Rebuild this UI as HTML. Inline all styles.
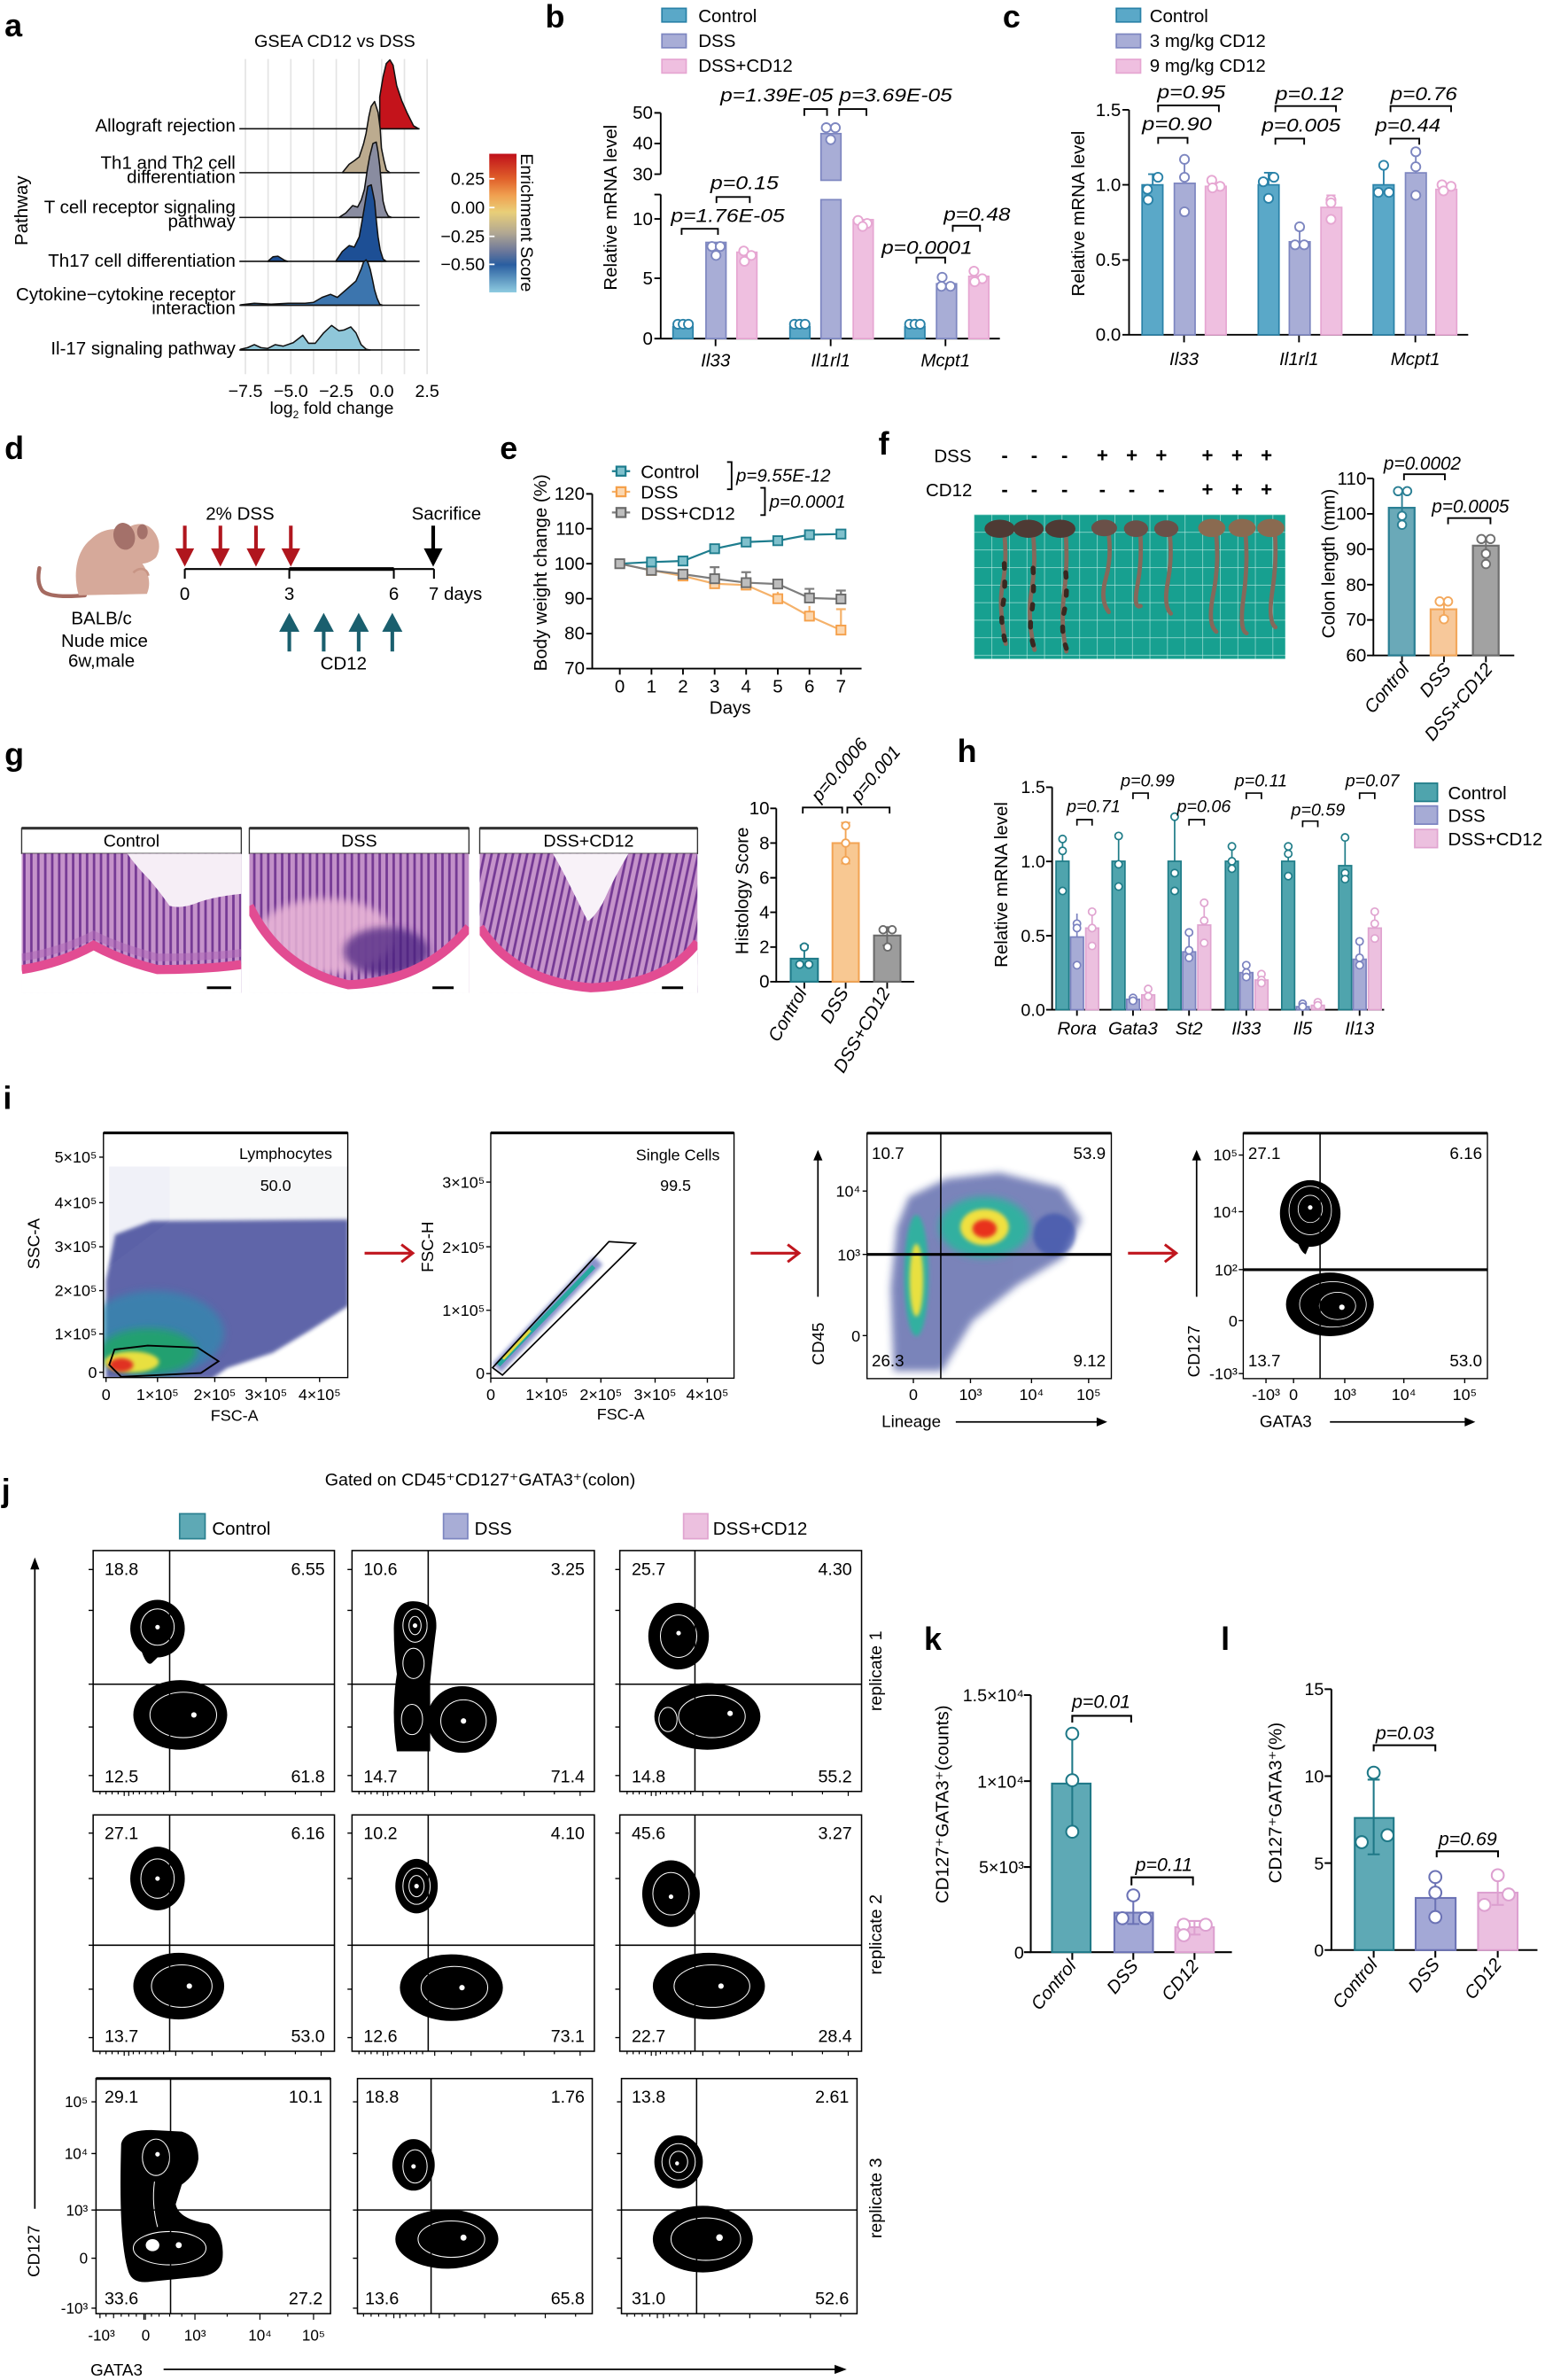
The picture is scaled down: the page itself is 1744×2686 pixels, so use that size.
<!DOCTYPE html>
<html><head><meta charset="utf-8">
<style>
html,body{margin:0;padding:0;background:#fff;}
svg{display:block;}
text{font-family:"Liberation Sans",Arial,sans-serif;fill:#000;}
.L{font-weight:bold;font-size:21px;}
.it{font-style:italic;}
</style></head><body>
<svg width="1744" height="2686" viewBox="0 0 1020 1571" preserveAspectRatio="none" xmlns="http://www.w3.org/2000/svg">
<defs>
<linearGradient id="cbar" x1="0" y1="0" x2="0" y2="1">
<stop offset="0" stop-color="#c0101a"/><stop offset="0.18" stop-color="#e0602a"/><stop offset="0.3" stop-color="#f0a050"/><stop offset="0.42" stop-color="#e9cf78"/><stop offset="0.57" stop-color="#b2a892"/><stop offset="0.7" stop-color="#6d789a"/><stop offset="0.8" stop-color="#2a5ea0"/><stop offset="1" stop-color="#8ecbe0"/>
</linearGradient>
<pattern id="grid" width="11.6" height="11.6" patternUnits="userSpaceOnUse" x="643" y="339.6"><rect width="11.6" height="11.6" fill="#17a090"/><path d="M0,0H11.6M0,0V11.6" stroke="#bfeae2" stroke-width=".7"/></pattern>
<pattern id="crypt" width="4.6" height="30" patternUnits="userSpaceOnUse"><rect width="4.6" height="30" fill="#d9a6d8"/><path d="M2.3,0V30" stroke="#7a3c98" stroke-width="1.6"/></pattern>
<pattern id="crypt2" width="4.6" height="30" patternUnits="userSpaceOnUse" patternTransform="rotate(12)"><rect width="4.6" height="30" fill="#d9a6d8"/><path d="M2.3,0V30" stroke="#7a3c98" stroke-width="1.6"/></pattern>
<filter id="bl" x="-50%" y="-50%" width="200%" height="200%"><feGaussianBlur stdDeviation="2.5"/></filter>
<filter id="bl2" x="-50%" y="-50%" width="200%" height="200%"><feGaussianBlur stdDeviation="1.2"/></filter>
<clipPath id="cp1"><rect x="68.3" y="747.8" width="161.3" height="161.5"/></clipPath>
<clipPath id="cp3"><rect x="572.4" y="748" width="161.3" height="162"/></clipPath>
<clipPath id="h1"><rect x="14.3" y="563.4" width="145" height="92"/></clipPath>
<clipPath id="h2"><rect x="164.6" y="563.4" width="145" height="92"/></clipPath>
<clipPath id="h3"><rect x="316.7" y="563.4" width="143.8" height="92"/></clipPath>
</defs>
<rect width="1020" height="1571" fill="#fff"/>

<!-- ============ PANEL A ============ -->
<text x="3" y="24" class="L">a</text>
<text x="221" y="31" font-size="11.6" text-anchor="middle">GSEA CD12 vs DSS</text>
<g stroke="#e4e4e4" stroke-width="1">
<path d="M162,39V247M177,39V247M192,39V247M207,39V247M222,39V247M237,39V247M252,39V247M267,39V247M282,39V247"/>
</g>
<g stroke="#111" stroke-width="0.9" stroke-linejoin="round">
<path d="M250.7,85 L250.7,64 L252.9,50.8 L255,42 L257.4,39.5 L259.5,43 L261.9,56.6 L265.2,66.4 L268.6,74.2 L273,83 L276.4,85 Z" fill="#c4131b"/>
<path d="M158,85H277" fill="none"/>
<path d="M226,114 L230.5,108.4 L234,106 L237.2,103.5 L240,95 L241.7,87.9 L243.5,77 L245,70.3 L247.3,67 L249.6,74.2 L251,85 L251.8,97.7 L253.5,106 L255.1,112.3 L257.4,114 Z" fill="#bcab8f"/>
<path d="M158,114H277" fill="none"/>
<path d="M223.8,143.5 L228.3,140.6 L232.8,135.7 L236.1,136.7 L238.5,132 L240.6,125 L242.5,112 L244,103.5 L246.2,94.7 L248.4,93.8 L249.5,100 L250.7,109.4 L251.8,122 L252.9,132.8 L254.5,139 L256.3,142.6 L258.5,143.5 Z" fill="#898ca0"/>
<path d="M158,143.5H277" fill="none"/>
<path d="M176.8,172.5 L180.2,169.5 L183.5,169.1 L188,171.9 L190,172.5 Z" fill="#1d4f95"/>
<path d="M221.6,172.5 L226,166 L230.5,162.1 L233.9,163.1 L237.2,156.3 L239,146 L240.6,136.7 L242.8,123 L245.1,122 L247.3,132.8 L248.5,146 L249.6,156.3 L251,165 L252.9,171 L255,172.5 Z" fill="#1d4f95"/>
<path d="M158,172.5H277" fill="none"/>
<path d="M158.9,201.2 L167.9,200.2 L179,200.8 L190.2,200.2 L201.4,200.2 L207,199.6 L212.6,196.3 L218.2,194.3 L222.7,196.3 L226,193.4 L230.5,189.5 L235,185.5 L238.4,177.7 L240,173 L241.7,171.5 L243,173.5 L244.4,177.7 L246,185 L247.3,191.4 L249,197 L250.7,200.8 L252.5,201.5 L158.9,201.5 Z" fill="#3c75ae"/>
<path d="M158,201.5H277" fill="none"/>
<path d="M158.9,230.5 L163.4,229.5 L167.9,227.5 L172.3,229.5 L176.8,230 L181.7,227.5 L186.9,228.5 L193.6,226.2 L197,223.6 L199.9,221.3 L203.7,226.6 L208.1,226.6 L213.7,219.7 L218.9,214.8 L223.8,218.4 L227.2,217.8 L231.6,215.8 L235,219.7 L238.4,227.5 L241.7,230.5 L244.4,231 L158.9,231 Z" fill="#8fc7d9"/>
<path d="M158,231H277" fill="none"/>
</g>
<g font-size="12" text-anchor="end">
<text x="155.5" y="87">Allograft rejection</text>
<text x="155.5" y="111.3">Th1 and Th2 cell</text>
<text x="155.5" y="120.7">differentiation</text>
<text x="155.5" y="140.6">T cell receptor signaling</text>
<text x="155.5" y="150">pathway</text>
<text x="155.5" y="176">Th17 cell differentiation</text>
<text x="155.5" y="198.2">Cytokine−cytokine receptor</text>
<text x="155.5" y="207.4">interaction</text>
<text x="155.5" y="234">Il-17 signaling pathway</text>
</g>
<text transform="translate(18,139) rotate(-90)" font-size="12" text-anchor="middle">Pathway</text>
<g font-size="11.5" text-anchor="middle">
<text x="162" y="262">−7.5</text><text x="192" y="262">−5.0</text><text x="222" y="262">−2.5</text><text x="252" y="262">0.0</text><text x="282" y="262">2.5</text>
<text x="219" y="273">log<tspan font-size="7" dy="3">2</tspan><tspan dy="-3"> fold change</tspan></text>
</g>
<rect x="323" y="101.5" width="18" height="91.5" fill="url(#cbar)"/>
<g stroke="#fff" stroke-width="1"><path d="M323,118h3.5M323,137h3.5M323,156h3.5M323,174.5h3.5"/></g>
<g font-size="11.5" text-anchor="end">
<text x="320" y="122">0.25</text><text x="320" y="141">0.00</text><text x="320" y="160">−0.25</text><text x="320" y="178.5">−0.50</text>
</g>
<text transform="translate(344,147) rotate(90)" font-size="11.5" text-anchor="middle">Enrichment Score</text>

<!-- ============ PANEL B ============ -->
<text x="360" y="18" class="L">b</text>
<rect x="437" y="5.5" width="16" height="9" fill="#5aa8c8" stroke="#2a82a8"/>
<rect x="437" y="22.5" width="16" height="9" fill="#a8add6" stroke="#7d86c0"/>
<rect x="437" y="39.2" width="16" height="9" fill="#efbfe0" stroke="#e6a6d2"/>
<g font-size="12"><text x="461" y="14.5">Control</text><text x="461" y="31">DSS</text><text x="461" y="47.5">DSS+CD12</text></g>
<g stroke="#000" stroke-width="1.1" fill="none">
<path d="M436.2,74.5V115M432,74.5h4.2M432,94.7h4.2M432,115h4.2"/>
<path d="M436.2,128.4V223.5H660.1M432,128.4h4.2M432,144.5h4.2M432,183.7h4.2M432,223.5h4.2"/>
<path d="M472.4,223.5v5M548.4,223.5v5M624.2,223.5v5"/>
</g>
<g font-size="12" text-anchor="end">
<text x="431" y="78.5">50</text><text x="431" y="98.7">40</text><text x="431" y="119">30</text><text x="431" y="148.5">10</text><text x="431" y="187.7">5</text><text x="431" y="227.5">0</text>
</g>
<text transform="translate(407,137) rotate(-90)" font-size="12" text-anchor="middle">Relative mRNA level</text>
<g font-size="12" text-anchor="middle" class="it">
<text x="472.4" y="242" font-style="italic">Il33</text><text x="548.4" y="242" font-style="italic">Il1rl1</text><text x="624.2" y="242" font-style="italic">Mcpt1</text>
</g>
<g stroke-width="1">
<rect x="444.3" y="215.6" width="13.2" height="7.9" fill="#5aa8c8" stroke="#2a82a8"/>
<rect x="466.1" y="160" width="13.2" height="63.5" fill="#a8add6" stroke="#7d86c0"/>
<rect x="486.5" y="166.5" width="13.2" height="57" fill="#efbfe0" stroke="#e6a6d2"/>
<rect x="521.5" y="215.6" width="13.2" height="7.9" fill="#5aa8c8" stroke="#2a82a8"/>
<rect x="542" y="88.2" width="13.2" height="30.8" fill="#a8add6" stroke="#7d86c0"/>
<rect x="542" y="131.8" width="13.2" height="91.7" fill="#a8add6" stroke="#7d86c0"/>
<rect x="563.3" y="145" width="13.2" height="78.5" fill="#efbfe0" stroke="#e6a6d2"/>
<rect x="597.4" y="215.6" width="13.2" height="7.9" fill="#5aa8c8" stroke="#2a82a8"/>
<rect x="618.3" y="187.3" width="13.2" height="36.2" fill="#a8add6" stroke="#7d86c0"/>
<rect x="639.6" y="182.4" width="13.2" height="41.1" fill="#efbfe0" stroke="#e6a6d2"/>
</g>
<g fill="#fff" stroke-width="1.1">
<g stroke="#2a82a8"><circle cx="447.5" cy="214" r="3"/><circle cx="451" cy="214" r="3"/><circle cx="454.5" cy="214" r="3"/><circle cx="524.5" cy="214" r="3"/><circle cx="528" cy="214" r="3"/><circle cx="531.5" cy="214" r="3"/><circle cx="600.5" cy="214" r="3"/><circle cx="604" cy="214" r="3"/><circle cx="607.5" cy="214" r="3"/></g>
<g stroke="#7d86c0"><circle cx="470" cy="162.7" r="3"/><circle cx="475.5" cy="162.7" r="3"/><circle cx="472.7" cy="168.6" r="3"/><circle cx="545.5" cy="84.3" r="3"/><circle cx="551.5" cy="84.3" r="3"/><circle cx="548.4" cy="92.2" r="3"/><circle cx="622" cy="183" r="3"/><circle cx="621.5" cy="189" r="3"/><circle cx="627.5" cy="189" r="3"/></g>
<g stroke="#e6a6d2"><circle cx="491" cy="165.7" r="3"/><circle cx="496" cy="168.6" r="3"/><circle cx="491.5" cy="172.5" r="3"/><circle cx="566.5" cy="145.5" r="3"/><circle cx="572.5" cy="147.5" r="3"/><circle cx="569.5" cy="149.5" r="3"/><circle cx="643" cy="179" r="3"/><circle cx="648.5" cy="184" r="3"/><circle cx="643.5" cy="186" r="3"/></g>
</g>
<g stroke="#000" stroke-width="1.1" fill="none">
<path d="M531,76.5V72H546V76.5M554,76.5V72H572V76.5"/>
<path d="M473,134V130H495V134"/>
<path d="M450,155V151H474V155"/>
<path d="M605,174V170H624V174"/>
<path d="M629,153V149H647V153"/>
</g>
<g font-size="12.5" font-style="italic">
<text x="475.6" y="67" textLength="153" lengthAdjust="spacingAndGlyphs">p=1.39E-05 p=3.69E-05</text>
<text x="469" y="125" textLength="45" lengthAdjust="spacingAndGlyphs">p=0.15</text>
<text x="443" y="146.5" textLength="75" lengthAdjust="spacingAndGlyphs">p=1.76E-05</text>
<text x="582" y="167.5" textLength="60" lengthAdjust="spacingAndGlyphs">p=0.0001</text>
<text x="623" y="145.5" textLength="44" lengthAdjust="spacingAndGlyphs">p=0.48</text>
</g>

<!-- ============ PANEL C ============ -->
<text x="662" y="18" class="L">c</text>
<rect x="737" y="5.5" width="16" height="9" fill="#5aa8c8" stroke="#2a82a8"/>
<rect x="737" y="22.5" width="16" height="9" fill="#a8add6" stroke="#7d86c0"/>
<rect x="737" y="39.2" width="16" height="9" fill="#efbfe0" stroke="#e6a6d2"/>
<g font-size="12"><text x="759" y="14.5">Control</text><text x="759" y="31">3 mg/kg CD12</text><text x="759" y="47.5">9 mg/kg CD12</text></g>
<g stroke="#000" stroke-width="1.1" fill="none">
<path d="M745.4,72.5V221H969.3M741,72.5h4.4M741,122h4.4M741,171.6h4.4M741,221h4.4M781.7,221v5M857.6,221v5M934.4,221v5"/>
</g>
<g font-size="12" text-anchor="end">
<text x="740" y="76.5">1.5</text><text x="740" y="126">1.0</text><text x="740" y="175.6">0.5</text><text x="740" y="225">0.0</text>
</g>
<text transform="translate(716,141) rotate(-90)" font-size="12" text-anchor="middle">Relative mRNA level</text>
<g font-size="12" text-anchor="middle" font-style="italic">
<text x="781.7" y="241">Il33</text><text x="857.6" y="241">Il1rl1</text><text x="934.4" y="241">Mcpt1</text>
</g>
<g stroke-width="1">
<rect x="754" y="122" width="13.7" height="99" fill="#5aa8c8" stroke="#2a82a8"/>
<rect x="775.3" y="121" width="13.7" height="100" fill="#a8add6" stroke="#7d86c0"/>
<rect x="795.8" y="123" width="13.7" height="98" fill="#efbfe0" stroke="#e6a6d2"/>
<rect x="830.7" y="122" width="13.7" height="99" fill="#5aa8c8" stroke="#2a82a8"/>
<rect x="851.2" y="159.6" width="13.7" height="61.4" fill="#a8add6" stroke="#7d86c0"/>
<rect x="872.1" y="136.9" width="13.7" height="84.1" fill="#efbfe0" stroke="#e6a6d2"/>
<rect x="906.6" y="122" width="13.7" height="99" fill="#5aa8c8" stroke="#2a82a8"/>
<rect x="927.9" y="114.1" width="13.7" height="106.9" fill="#a8add6" stroke="#7d86c0"/>
<rect x="948" y="125" width="13.7" height="96" fill="#efbfe0" stroke="#e6a6d2"/>
</g>
<g stroke-width="1.1" fill="none">
<path stroke="#2a82a8" d="M761,122V115M758,115h6M837.5,122V114M834.5,114h6M913.5,122V109M910.5,109h6"/>
<path stroke="#7d86c0" d="M782,121V104.2M779,104.2h6M858,159.6V151.7M855,151.7h6M934.7,114.1V100.2M931.7,100.2h6"/>
<path stroke="#e6a6d2" d="M878.7,136.9V128.9M875.7,128.9h6"/>
</g>
<g fill="#fff" stroke-width="1.1">
<g stroke="#2a82a8"><circle cx="764.5" cy="117" r="3"/><circle cx="757.5" cy="125" r="3"/><circle cx="758" cy="131.9" r="3"/><circle cx="841" cy="117" r="3"/><circle cx="834" cy="120" r="3"/><circle cx="837.5" cy="130.9" r="3"/><circle cx="913.5" cy="109.1" r="3"/><circle cx="910" cy="127" r="3"/><circle cx="917" cy="127" r="3"/></g>
<g stroke="#7d86c0"><circle cx="782" cy="105.2" r="3"/><circle cx="782" cy="117" r="3"/><circle cx="782" cy="139.8" r="3"/><circle cx="858" cy="149.7" r="3"/><circle cx="855" cy="161.6" r="3"/><circle cx="861" cy="161.6" r="3"/><circle cx="934.7" cy="100.2" r="3"/><circle cx="934.7" cy="110.1" r="3"/><circle cx="934.7" cy="128.9" r="3"/></g>
<g stroke="#e6a6d2"><circle cx="800" cy="119" r="3"/><circle cx="805.5" cy="123" r="3"/><circle cx="800.5" cy="124" r="3"/><circle cx="878.7" cy="131.9" r="3"/><circle cx="878.7" cy="133.9" r="3"/><circle cx="878.7" cy="144.8" r="3"/><circle cx="952" cy="122" r="3"/><circle cx="958" cy="123" r="3"/><circle cx="953" cy="126" r="3"/></g>
</g>
<g stroke="#000" stroke-width="1.1" fill="none">
<path d="M764.6,74V69.6H804.7V74M764.6,95V91H784V95"/>
<path d="M842,74V70H882V74M842,95.5V91.5H861V95.5"/>
<path d="M918,74V70H958V74M918,95.5V91.5H937V95.5"/>
</g>
<g font-size="12.5" font-style="italic">
<text x="764" y="65" textLength="45" lengthAdjust="spacingAndGlyphs">p=0.95</text>
<text x="754" y="86" textLength="46" lengthAdjust="spacingAndGlyphs">p=0.90</text>
<text x="842" y="66" textLength="45" lengthAdjust="spacingAndGlyphs">p=0.12</text>
<text x="833" y="87" textLength="52" lengthAdjust="spacingAndGlyphs">p=0.005</text>
<text x="918" y="66" textLength="44" lengthAdjust="spacingAndGlyphs">p=0.76</text>
<text x="908" y="87" textLength="43" lengthAdjust="spacingAndGlyphs">p=0.44</text>
</g>

<!-- ============ PANEL D ============ -->
<text x="3" y="303" class="L">d</text>
<path d="M56,393 C44,394 32,394 28,390 C25,386 25,380 26,375" stroke="#a56a60" stroke-width="2.6" fill="none" stroke-linecap="round"/>
<path d="M52,393 C48,380 50,364 60,356 C66,350 74,348 82,350 C88,345 96,344 101,350 C106,356 106,363 103,368 C100,371 96,372 94,372 C98,378 100,385 97,392 Z" fill="#d6a99a"/>
<ellipse cx="82" cy="354" rx="7" ry="9" fill="#a4716a" transform="rotate(-15 82 354)"/>
<ellipse cx="94" cy="351" rx="3.5" ry="5" fill="#a4716a"/>
<path d="M88,378 C92,374 97,375 98,380" stroke="#c89585" stroke-width="1.5" fill="none"/>
<g font-size="12" text-anchor="middle">
<text x="67" y="412">BALB/c</text><text x="69" y="427">Nude mice</text><text x="67" y="440">6w,male</text>
<text x="158.5" y="343">2% DSS</text><text x="294.7" y="343">Sacrifice</text><text x="226.8" y="442">CD12</text>
<text x="122" y="396">0</text><text x="191" y="396">3</text><text x="260" y="396">6</text>
</g>
<text x="283" y="396" font-size="12">7 days</text>
<g stroke="#000" stroke-width="1.2" fill="none">
<path d="M122,375.6H286.5M122,375.6V382M191,375.6V382M260,375.6V382M286.5,375.6V382"/>
</g>
<path d="M191,375.6H260" stroke="#000" stroke-width="2.4"/>
<g fill="#b0161e">
<path d="M120.8,347h2.4v15h5l-6.2,12l-6.2,-12h5z"/>
<path d="M144.3,347h2.4v15h5l-6.2,12l-6.2,-12h5z"/>
<path d="M167.8,347h2.4v15h5l-6.2,12l-6.2,-12h5z"/>
<path d="M190.8,347h2.4v15h5l-6.2,12l-6.2,-12h5z"/>
</g>
<path d="M284.8,347h2.4v15h5l-6.2,12l-6.2,-12h5z" fill="#000"/>
<g fill="#1a5f6e">
<path d="M189.8,430h2.4v-13h5.5l-6.7,-12.5l-6.7,12.5h5.5z"/>
<path d="M212.5,430h2.4v-13h5.5l-6.7,-12.5l-6.7,12.5h5.5z"/>
<path d="M235.6,430h2.4v-13h5.5l-6.7,-12.5l-6.7,12.5h5.5z"/>
<path d="M257.8,430h2.4v-13h5.5l-6.7,-12.5l-6.7,12.5h5.5z"/>
</g>

<!-- ============ PANEL E ============ -->
<text x="330" y="303" class="L">e</text>
<g stroke="#000" stroke-width="1.1" fill="none">
<path d="M391,326V441.3H568.8"/>
<path d="M387,326h4M387,349h4M387,372.1h4M387,395.2h4M387,418.2h4M387,441.3h4"/>
<path d="M409.2,441.3v4M430.1,441.3v4M450.9,441.3v4M471.8,441.3v4M492.6,441.3v4M513.5,441.3v4M534.4,441.3v4M555.2,441.3v4"/>
</g>
<g font-size="12" text-anchor="end">
<text x="386" y="330">120</text><text x="386" y="353">110</text><text x="386" y="376">100</text><text x="386" y="399">90</text><text x="386" y="422">80</text><text x="386" y="445">70</text>
</g>
<g font-size="12" text-anchor="middle">
<text x="409.2" y="457">0</text><text x="430.1" y="457">1</text><text x="450.9" y="457">2</text><text x="471.8" y="457">3</text><text x="492.6" y="457">4</text><text x="513.5" y="457">5</text><text x="534.4" y="457">6</text><text x="555.2" y="457">7</text>
<text x="482" y="471">Days</text>
</g>
<text transform="translate(361,378) rotate(-90)" font-size="12" text-anchor="middle">Body weight change (%)</text>
<g fill="none" stroke-width="1.3">
<path stroke="#f5b26b" d="M513.5,395.2V390.6M534.4,406.7V400M555.2,415.9V402.1M552,402.1h6.4"/>
<path stroke="#7d7d7d" d="M471.8,382V374.4M492.6,384.6V377.7M534.4,394.7V388.7M555.2,395.4V389.8M468.6,374.4h6.4M489.4,377.7h6.4M531.2,388.7h6.4M552,389.8h6.4"/>
<polyline stroke="#f5b26b" points="409.2,372.1 430.1,376.5 450.9,380.2 471.8,385.3 492.6,386.2 513.5,395.2 534.4,406.7 555.2,415.9"/>
<polyline stroke="#7d7d7d" points="409.2,372.1 430.1,376.5 450.9,379.0 471.8,382.0 492.6,384.6 513.5,385.5 534.4,394.7 555.2,395.4"/>
<polyline stroke="#1e7d8e" points="409.2,372.1 430.1,371.0 450.9,370.3 471.8,362.2 492.6,357.8 513.5,356.9 534.4,353.0 555.2,352.5"/>
</g>
<g stroke-width="1.1">
<g fill="#fbd7b0" stroke="#f5a04a"><rect x="427.1" y="373.5" width="6" height="6"/><rect x="447.9" y="377.2" width="6" height="6"/><rect x="468.8" y="382.3" width="6" height="6"/><rect x="489.6" y="383.2" width="6" height="6"/><rect x="510.5" y="392.2" width="6" height="6"/><rect x="531.4" y="403.7" width="6" height="6"/><rect x="552.2" y="412.9" width="6" height="6"/></g>
<g fill="#bdbdbd" stroke="#6a6a6a"><rect x="406.2" y="369.1" width="6" height="6"/><rect x="427.1" y="373.5" width="6" height="6"/><rect x="447.9" y="376" width="6" height="6"/><rect x="468.8" y="379" width="6" height="6"/><rect x="489.6" y="381.6" width="6" height="6"/><rect x="510.5" y="382.5" width="6" height="6"/><rect x="531.4" y="391.7" width="6" height="6"/><rect x="552.2" y="392.4" width="6" height="6"/></g>
<g fill="#7fc0cc" stroke="#1e7d8e"><rect x="427.1" y="368" width="6" height="6"/><rect x="447.9" y="367.3" width="6" height="6"/><rect x="468.8" y="359.2" width="6" height="6"/><rect x="489.6" y="354.8" width="6" height="6"/><rect x="510.5" y="353.9" width="6" height="6"/><rect x="531.4" y="350" width="6" height="6"/><rect x="552.2" y="349.5" width="6" height="6"/></g>
</g>
<g stroke-width="1.3">
<path d="M404,311h12" stroke="#1e7d8e"/><rect x="407" y="308" width="6" height="6" fill="#7fc0cc" stroke="#1e7d8e"/>
<path d="M404,324.6h12" stroke="#f5b26b"/><rect x="407" y="321.6" width="6" height="6" fill="#fbd7b0" stroke="#f5a04a"/>
<path d="M404,338.3h12" stroke="#7d7d7d"/><rect x="407" y="335.3" width="6" height="6" fill="#bdbdbd" stroke="#6a6a6a"/>
</g>
<g font-size="12"><text x="423" y="315.5">Control</text><text x="423" y="329">DSS</text><text x="423" y="343">DSS+CD12</text></g>
<path d="M480,305H483V323H480M502,322H505V340H502" stroke="#000" stroke-width="1.1" fill="none"/>
<g font-size="12" font-style="italic"><text x="486" y="318">p=9.55E-12</text><text x="508" y="335">p=0.0001</text></g>

<!-- ============ PANEL F ============ -->
<text x="580" y="300" class="L">f</text>
<g font-size="12">
<text x="629" y="305" text-anchor="middle">DSS</text><text x="626.5" y="327.5" text-anchor="middle">CD12</text>
</g>
<g font-size="13" font-weight="bold" text-anchor="middle">
<text x="663.3" y="305">-</text><text x="682.8" y="305">-</text><text x="702.8" y="305">-</text><text x="727.8" y="305">+</text><text x="747.2" y="305">+</text><text x="766.7" y="305">+</text><text x="797.2" y="305">+</text><text x="816.7" y="305">+</text><text x="836.1" y="305">+</text>
<text x="663.3" y="327.5">-</text><text x="682.8" y="327.5">-</text><text x="702.8" y="327.5">-</text><text x="727.8" y="327.5">-</text><text x="747.2" y="327.5">-</text><text x="766.7" y="327.5">-</text><text x="797.2" y="327.5">+</text><text x="816.7" y="327.5">+</text><text x="836.1" y="327.5">+</text>
</g>
<rect x="643" y="339.6" width="205.5" height="95.3" fill="url(#grid)"/>
<g fill="none" stroke-linecap="round">
<g stroke="#86685a" stroke-width="2.8">
<path d="M663,352 Q665,370 662,385 T664,425"/><path d="M682,352 Q684,372 681,390 T683,429"/><path d="M703.6,352 Q705,372 702.5,392 T704,430"/>
<path d="M731.9,352 Q734,368 730,382 T732,404"/><path d="M752.8,352 Q754,370 751,386 T753,400"/><path d="M772.2,352 Q774,368 771,384 T773,405"/>
<path d="M802.8,352 Q805,372 801,392 T803,417"/><path d="M822.3,352 Q824,372 821,394 T823,418"/><path d="M841.7,352 Q843,370 840,390 T842,414"/>
</g>
<g stroke="#3a2820" stroke-width="3.2" stroke-dasharray="3,9">
<path d="M663,372 Q664,390 662,400 T664,425"/><path d="M682,375 Q683,392 681,405 T683,428"/><path d="M703.6,378 Q705,392 702.5,404 T704,428"/>
</g>
</g>
<g>
<ellipse cx="660" cy="349" rx="10" ry="6" fill="#4e3a34"/><ellipse cx="679" cy="349" rx="10" ry="6" fill="#4e3a34"/><ellipse cx="700" cy="349" rx="10" ry="6" fill="#4e3a34"/>
<ellipse cx="729" cy="348.5" rx="8.5" ry="5.5" fill="#6a5048"/><ellipse cx="750" cy="349" rx="8" ry="5.5" fill="#6a5048"/><ellipse cx="770" cy="349" rx="8" ry="5.5" fill="#6a5048"/>
<ellipse cx="800" cy="348.5" rx="9" ry="6" fill="#8a6a50"/><ellipse cx="820" cy="348.5" rx="9" ry="6" fill="#8a6a50"/><ellipse cx="839" cy="348.5" rx="9" ry="6" fill="#8a6a50"/>
</g>
<g stroke="#000" stroke-width="1.1" fill="none">
<path d="M906.7,315.8V432.6H999.7"/>
<path d="M902.5,315.8h4.2M902.5,339.2h4.2M902.5,362.5h4.2M902.5,385.9h4.2M902.5,409.2h4.2M902.5,432.6h4.2"/>
<path d="M925.6,432.6v4.5M953.3,432.6v4.5M981,432.6v4.5"/>
<path d="M926.9,317V313H953.9V317M956,346V342H984V346"/>
</g>
<g font-size="12" text-anchor="end">
<text x="902" y="320">110</text><text x="902" y="343">100</text><text x="902" y="366.5">90</text><text x="902" y="390">80</text><text x="902" y="413">70</text><text x="902" y="436.5">60</text>
</g>
<text transform="translate(881,372) rotate(-90)" font-size="12" text-anchor="middle">Colon length (mm)</text>
<g stroke-width="1.3">
<rect x="916.9" y="335.2" width="17" height="97.4" fill="#6aa9b8" stroke="#2a7f94"/>
<rect x="944.5" y="402.2" width="17" height="30.4" fill="#f7c89a" stroke="#f3a85c"/>
<rect x="972.4" y="360.2" width="17" height="72.4" fill="#a2a2a2" stroke="#6f6f6f"/>
</g>
<g fill="none" stroke-width="1.1">
<path stroke="#2a7f94" d="M925.6,324V346M922.5,324h6.2M922.5,346h6.2"/>
<path stroke="#f3a85c" d="M953.3,396V407M950.2,396h6.2M950.2,407h6.2"/>
<path stroke="#6f6f6f" d="M981,356V364M977.9,356h6.2M977.9,364h6.2"/>
</g>
<g fill="#fff" stroke-width="1.1">
<g stroke="#2a7f94"><circle cx="923" cy="324.2" r="2.8"/><circle cx="929" cy="324.2" r="2.8"/><circle cx="925.6" cy="340.5" r="2.8"/><circle cx="925.6" cy="346.4" r="2.8"/></g>
<g stroke="#f3a85c"><circle cx="950.5" cy="397" r="2.8"/><circle cx="956" cy="397" r="2.8"/><circle cx="953.3" cy="408.7" r="2.8"/></g>
<g stroke="#6f6f6f"><circle cx="978" cy="355.8" r="2.8"/><circle cx="984" cy="355.8" r="2.8"/><circle cx="981" cy="365.5" r="2.8"/><circle cx="981" cy="372.3" r="2.8"/></g>
</g>
<g font-size="12.5" font-style="italic">
<text x="913.5" y="310" textLength="51" lengthAdjust="spacingAndGlyphs">p=0.0002</text>
<text x="945.3" y="338.5" textLength="51" lengthAdjust="spacingAndGlyphs">p=0.0005</text>
</g>
<g font-size="12" text-anchor="end" font-style="italic">
<text transform="translate(931,442) rotate(-50)">Control</text>
<text transform="translate(958.5,442) rotate(-50)">DSS</text>
<text transform="translate(986,442) rotate(-50)">DSS+CD12</text>
</g>

<!-- ============ PANEL G ============ -->
<text x="3" y="505" class="L">g</text>
<g stroke="#333" stroke-width="0.8" fill="#fff">
<rect x="14.3" y="546.7" width="145" height="16.7"/><rect x="164.6" y="546.7" width="145" height="16.7"/><rect x="316.7" y="546.7" width="143.8" height="16.7"/>
</g>
<path d="M14.3,546.7h145M164.6,546.7h145M316.7,546.7h143.8" stroke="#333" stroke-width="1.8"/>
<g font-size="11.5" text-anchor="middle"><text x="86.8" y="559">Control</text><text x="237.1" y="559">DSS</text><text x="388.6" y="559">DSS+CD12</text></g>
<g clip-path="url(#h1)">
<rect x="14.3" y="563.4" width="145" height="92" fill="url(#crypt)"/>
<rect x="14.3" y="563.4" width="145" height="92" fill="#5a2a80" opacity="0.15"/>
<path d="M84,563.4 H159.3 V590 Q140,592 130,596 Q120,600 112,598 Q105,588 98,580 Q90,572 84,563.4Z" fill="#f6eef6"/>
<path d="M14.3,640 Q40,636 61.8,624 Q80,634 104,640 Q135,640 159.3,636.7 V656 H14.3Z" fill="#fff"/>
<path d="M14.3,640 Q40,636 61.8,624 Q80,634 104,640 Q135,640 159.3,636.7" stroke="#e24c92" stroke-width="6" fill="none"/>
<path d="M14.3,632 Q40,628 61.8,617 Q80,626 104,632 Q135,632 159.3,629" stroke="#b06ab8" stroke-width="5" fill="none" opacity=".6"/>
</g>
<g clip-path="url(#h2)">
<rect x="164.6" y="563.4" width="145" height="92" fill="url(#crypt)"/>
<rect x="164.6" y="563.4" width="145" height="92" fill="#5a2a80" opacity="0.18"/>
<ellipse cx="215" cy="618" rx="45" ry="25" fill="#e8b4d6" opacity=".85" filter="url(#bl)"/>
<ellipse cx="255" cy="628" rx="28" ry="16" fill="#4a2080" opacity=".75" filter="url(#bl)"/>
<path d="M164.6,598 Q185,640 230,650 Q280,648 309.6,612 V656 H164.6Z" fill="#fff"/>
<path d="M164.6,598 Q185,640 230,650 Q280,648 309.6,612" stroke="#e24c92" stroke-width="6" fill="none"/>
</g>
<g clip-path="url(#h3)">
<rect x="316.7" y="563.4" width="143.8" height="92" fill="url(#crypt2)"/>
<rect x="316.7" y="563.4" width="143.8" height="92" fill="#5a2a80" opacity="0.15"/>
<path d="M365,563.4 H415 Q405,580 398,596 Q392,606 388,608 Q382,596 375,582 Q370,572 365,563.4Z" fill="#f8f2f8"/>
<path d="M316.7,612 Q340,648 390,652 Q440,650 460.5,622 V656 H316.7Z" fill="#fff"/>
<path d="M316.7,612 Q340,648 390,652 Q440,650 460.5,622" stroke="#e24c92" stroke-width="6" fill="none"/>
</g>
<path d="M136.6,652h16M285.5,652h14M437,652h14" stroke="#000" stroke-width="1.8"/>
<g stroke="#000" stroke-width="1.1" fill="none">
<path d="M512.5,533.6V648H603.6"/>
<path d="M508.5,533.6h4M508.5,556.5h4M508.5,579.4h4M508.5,602.2h4M508.5,625.1h4M508.5,648h4"/>
<path d="M531,648v4.5M558.3,648v4.5M585.7,648v4.5"/>
<path d="M530,537V533H556V537M559.4,537V533H587.3V537"/>
</g>
<g font-size="12" text-anchor="end">
<text x="508" y="537.6">10</text><text x="508" y="560.5">8</text><text x="508" y="583.4">6</text><text x="508" y="606.2">4</text><text x="508" y="629.1">2</text><text x="508" y="652">0</text>
</g>
<text transform="translate(494,588) rotate(-90)" font-size="12" text-anchor="middle">Histology Score</text>
<g stroke-width="1.2">
<rect x="522" y="632.8" width="18" height="15.2" fill="#4aa5b0" stroke="#1f7a88"/>
<rect x="549.6" y="556.5" width="17.4" height="91.5" fill="#f8c892" stroke="#f2a455"/>
<rect x="577" y="617.5" width="17.5" height="30.5" fill="#9c9c9c" stroke="#6a6a6a"/>
</g>
<g fill="none" stroke-width="1.1">
<path stroke="#1f7a88" d="M531,632.8V624M528,624h6"/>
<path stroke="#f2a455" d="M558.3,556.5V543M558.3,556.5V570M555.3,543h6M555.3,570h6"/>
<path stroke="#6a6a6a" d="M585.7,617.5V612M585.7,617.5V624M582.7,612h6M582.7,624h6"/>
</g>
<g fill="#fff" stroke-width="1.1">
<g stroke="#1f7a88"><circle cx="531" cy="625.1" r="2.5"/><circle cx="528" cy="636.6" r="2.5"/><circle cx="534" cy="636.6" r="2.5"/></g>
<g stroke="#f2a455"><circle cx="558.3" cy="545" r="2.5"/><circle cx="558.3" cy="556.5" r="2.5"/><circle cx="558.3" cy="568" r="2.5"/></g>
<g stroke="#6a6a6a"><circle cx="583" cy="613.7" r="2.5"/><circle cx="589" cy="613.7" r="2.5"/><circle cx="586" cy="625.1" r="2.5"/></g>
</g>
<g font-size="12" font-style="italic">
<text transform="translate(541,530) rotate(-50)">p=0.0006</text>
<text transform="translate(567,530) rotate(-50)">p=0.001</text>
</g>
<g font-size="12" text-anchor="end" font-style="italic">
<text transform="translate(533,655) rotate(-60)">Control</text>
<text transform="translate(560.5,655) rotate(-60)">DSS</text>
<text transform="translate(588,655) rotate(-60)">DSS+CD12</text>
</g>

<!-- ============ PANEL H ============ -->
<text x="632" y="503" class="L">h</text>
<g stroke="#000" stroke-width="1.1" fill="none">
<path d="M694.6,519.6V666.5H913.8"/>
<path d="M690.6,519.6h4M690.6,568.6h4M690.6,617.7h4M690.6,666.5h4"/>
<path d="M711,666.5v4M748,666.5v4M785,666.5v4M822.8,666.5v4M860,666.5v4M897.6,666.5v4"/>
</g>
<g font-size="11.5" text-anchor="end">
<text x="690" y="523.6">1.5</text><text x="690" y="572.6">1.0</text><text x="690" y="621.7">0.5</text><text x="690" y="670.5">0.0</text>
</g>
<text transform="translate(665,584) rotate(-90)" font-size="12" text-anchor="middle">Relative mRNA level</text>
<g font-size="12" text-anchor="middle" font-style="italic">
<text x="711" y="683">Rora</text><text x="748" y="683">Gata3</text><text x="785" y="683">St2</text><text x="822.8" y="683">Il33</text><text x="860" y="683">Il5</text><text x="897.6" y="683">Il13</text>
</g>
<g stroke-width="1">
<g fill="#4fa4ad" stroke="#1f7c88">
<rect x="697.2" y="568.5" width="8.5" height="98"/><rect x="734.2" y="568.5" width="8.5" height="98"/><rect x="771.2" y="568.5" width="8.5" height="98"/><rect x="809" y="568.5" width="8.5" height="98"/><rect x="846.2" y="568.5" width="8.5" height="98"/><rect x="883.8" y="571.4" width="8.5" height="95.1"/>
</g>
<g fill="#a6abd5" stroke="#7b82c0">
<rect x="706.8" y="618.5" width="8.5" height="48"/><rect x="743.8" y="659.6" width="8.5" height="6.9"/><rect x="780.8" y="628.3" width="8.5" height="38.2"/><rect x="818.6" y="642" width="8.5" height="24.5"/><rect x="855.8" y="664.5" width="8.5" height="2"/><rect x="893.4" y="633.2" width="8.5" height="33.3"/>
</g>
<g fill="#ecc0df" stroke="#e0a4d0">
<rect x="716.8" y="612.6" width="8.5" height="53.9"/><rect x="753.8" y="656.7" width="8.5" height="9.8"/><rect x="790.8" y="610.6" width="8.5" height="55.9"/><rect x="828.6" y="646.9" width="8.5" height="19.6"/><rect x="865.8" y="663.6" width="8.5" height="2.9"/><rect x="903.4" y="612.6" width="8.5" height="53.9"/>
</g>
</g>
<g fill="none" stroke-width="1">
<path stroke="#1f7c88" d="M701.5,568.5V553M738.5,568.5V551M775.5,568.5V538M813.3,568.5V558M850.5,568.5V556M888,571.4V553"/>
<path stroke="#7b82c0" d="M711,618.5V603M785,628.3V614M822.8,642V636M897.6,633.2V620"/>
<path stroke="#e0a4d0" d="M721,612.6V600M795,610.6V594M907.6,612.6V600"/>
</g>
<g fill="#fff" stroke-width="1">
<g stroke="#1f7c88">
<circle cx="701.5" cy="553.8" r="2.4"/><circle cx="701.5" cy="561.6" r="2.4"/><circle cx="701.5" cy="588.1" r="2.4"/>
<circle cx="738.5" cy="551.8" r="2.4"/><circle cx="738.5" cy="570.5" r="2.4"/><circle cx="738.5" cy="585.2" r="2.4"/>
<circle cx="775.5" cy="539.1" r="2.4"/><circle cx="775.5" cy="576.3" r="2.4"/><circle cx="775.5" cy="588.1" r="2.4"/>
<circle cx="813.3" cy="558.7" r="2.4"/><circle cx="813.3" cy="568.5" r="2.4"/><circle cx="813.3" cy="573.4" r="2.4"/>
<circle cx="850.5" cy="558.7" r="2.4"/><circle cx="850.5" cy="563.6" r="2.4"/><circle cx="850.5" cy="578.3" r="2.4"/>
<circle cx="888" cy="552.8" r="2.4"/><circle cx="888" cy="576.3" r="2.4"/><circle cx="888" cy="580.3" r="2.4"/>
</g>
<g stroke="#7b82c0">
<circle cx="711" cy="609.7" r="2.4"/><circle cx="711" cy="612.6" r="2.4"/><circle cx="711" cy="637.1" r="2.4"/>
<circle cx="748" cy="658.7" r="2.4"/><circle cx="748" cy="660.6" r="2.4"/>
<circle cx="785" cy="615.5" r="2.4"/><circle cx="785" cy="627.3" r="2.4"/><circle cx="785" cy="632.2" r="2.4"/>
<circle cx="822.8" cy="637.1" r="2.4"/><circle cx="822.8" cy="642" r="2.4"/><circle cx="822.8" cy="644.9" r="2.4"/>
<circle cx="860" cy="662.6" r="2.4"/><circle cx="860" cy="664.5" r="2.4"/>
<circle cx="897.6" cy="621.4" r="2.4"/><circle cx="897.6" cy="632.2" r="2.4"/><circle cx="897.6" cy="637.1" r="2.4"/>
</g>
<g stroke="#e0a4d0">
<circle cx="721" cy="601.8" r="2.4"/><circle cx="721" cy="612.6" r="2.4"/><circle cx="721" cy="624.4" r="2.4"/>
<circle cx="758" cy="652.8" r="2.4"/><circle cx="758" cy="657.7" r="2.4"/>
<circle cx="795" cy="595.9" r="2.4"/><circle cx="795" cy="607.7" r="2.4"/><circle cx="795" cy="622.4" r="2.4"/>
<circle cx="832.8" cy="643" r="2.4"/><circle cx="832.8" cy="646.9" r="2.4"/><circle cx="832.8" cy="648.9" r="2.4"/>
<circle cx="870" cy="661.6" r="2.4"/><circle cx="870" cy="663.6" r="2.4"/>
<circle cx="907.6" cy="601.8" r="2.4"/><circle cx="907.6" cy="609.7" r="2.4"/><circle cx="907.6" cy="619.5" r="2.4"/>
</g>
</g>
<g stroke="#000" stroke-width="1" fill="none">
<path d="M711,545V541H721V545M748,527.5V523.5H758V527.5M785,545V541H795V545M822.8,527.5V523.5H832.8V527.5M860,546V542H870V546M897.6,527.5V523.5H907.6V527.5"/>
</g>
<g font-size="11.5" font-style="italic" text-anchor="middle">
<text x="722" y="536">p=0.71</text><text x="757.7" y="519">p=0.99</text><text x="794.8" y="536">p=0.06</text><text x="832.5" y="519">p=0.11</text><text x="870.2" y="538.5">p=0.59</text><text x="906" y="519">p=0.07</text>
</g>
<rect x="934" y="517" width="15" height="12" fill="#4fa4ad" stroke="#1f7c88"/>
<rect x="934" y="532" width="15" height="12" fill="#a6abd5" stroke="#7b82c0"/>
<rect x="934" y="547.5" width="15" height="12" fill="#ecc0df" stroke="#e0a4d0"/>
<g font-size="12"><text x="956" y="527.5">Control</text><text x="956" y="542.5">DSS</text><text x="956" y="558">DSS+CD12</text></g>

<!-- ============ PANEL I ============ -->
<text x="2" y="732" class="L">i</text>
<g clip-path="url(#cp1)">
<path d="M72,770 L112,770 L112,806 L72,836Z" fill="#2c3a9a" opacity=".07"/>
<rect x="112" y="770" width="118" height="36" fill="#b8bcd0" opacity=".14"/>
<path d="M70,845 L76,815 L100,806 L230,805 L230,862 L205,878 L180,893 L150,903 L140,910 L70,910Z" fill="#202c88" opacity=".72" filter="url(#bl2)"/>
<ellipse cx="102" cy="880" rx="46" ry="28" fill="#2a8fb0" opacity=".65" filter="url(#bl)"/>
<ellipse cx="98" cy="892" rx="32" ry="15" fill="#22a070" filter="url(#bl)"/>
<ellipse cx="87" cy="899" rx="18" ry="7" fill="#e8e040" filter="url(#bl2)"/>
<ellipse cx="80" cy="901" rx="8" ry="4.5" fill="#e03020" filter="url(#bl2)"/>
</g>
<path d="M72.1,900.9 L75.6,890.8 L97.5,888.2 L130.6,889.6 L144.3,898.5 L132.6,906.3 L80,908.8Z" stroke="#000" stroke-width="1.1" fill="none"/>
<rect x="68.3" y="747.8" width="161.3" height="161.5" fill="none" stroke="#000" stroke-width=".8"/>
<path d="M68.3,747.8h161.3" stroke="#000" stroke-width="1.8"/>
<g stroke="#000" stroke-width=".8"><path d="M65.5,763.8h3M65.5,793.9h3M65.5,823h3M65.5,851.9h3M65.5,880.5h3M65.5,905.8h3M70,909.3v3M104,909.3v3M141.8,909.3v3M175.6,909.3v3M211,909.3v3"/></g>
<g font-size="10.5" text-anchor="end">
<text x="64" y="767.5">5×10⁵</text><text x="64" y="797.5">4×10⁵</text><text x="64" y="826.5">3×10⁵</text><text x="64" y="855.5">2×10⁵</text><text x="64" y="884">1×10⁵</text><text x="64" y="909.5">0</text>
</g>
<g font-size="10.5" text-anchor="middle">
<text x="70" y="924">0</text><text x="104" y="924">1×10⁵</text><text x="141.8" y="924">2×10⁵</text><text x="175.6" y="924">3×10⁵</text><text x="211" y="924">4×10⁵</text>
<text x="154.8" y="938">FSC-A</text>
<text x="188.6" y="765">Lymphocytes</text><text x="182" y="786">50.0</text>
</g>
<text transform="translate(26,821) rotate(-90)" font-size="11" text-anchor="middle">SSC-A</text>
<g fill="none" stroke="#c0161e" stroke-width="1.8"><path d="M240.7,827.2H272M265,821.5L272.5,827.2L265,833"/><path d="M495.6,827.2H527M520,821.5L527.5,827.2L520,833"/><path d="M744.7,827.2H776M769,821.5L776.5,827.2L769,833"/></g>
<path d="M328,903 L395,832" stroke="#2a3aa0" stroke-width="8" opacity=".55" filter="url(#bl2)"/>
<path d="M329,901 L392,836" stroke="#28a8a0" stroke-width="3"/>
<path d="M332,897 L350,878" stroke="#e0d840" stroke-width="2"/>
<path d="M325.2,902.8 L331.7,907.7 L419.5,820.7 L402,819.6Z" stroke="#000" stroke-width="1" fill="none"/>
<rect x="324" y="747.8" width="160.6" height="161.9" fill="none" stroke="#000" stroke-width=".8"/>
<path d="M324,747.8h160.6" stroke="#000" stroke-width="1.8"/>
<g stroke="#000" stroke-width=".8"><path d="M321,780.3h3M321,823h3M321,864.9h3M321,906.7h3M324,909.7v3M361,909.7v3M396.7,909.7v3M432.5,909.7v3M467,909.7v3"/></g>
<g font-size="10.5" text-anchor="end">
<text x="320" y="784">3×10⁵</text><text x="320" y="827">2×10⁵</text><text x="320" y="868.5">1×10⁵</text><text x="320" y="910">0</text>
</g>
<g font-size="10.5" text-anchor="middle">
<text x="324" y="924">0</text><text x="361" y="924">1×10⁵</text><text x="396.7" y="924">2×10⁵</text><text x="432.5" y="924">3×10⁵</text><text x="467" y="924">4×10⁵</text>
<text x="409.8" y="937">FSC-A</text>
<text x="447.5" y="766">Single Cells</text><text x="446" y="786">99.5</text>
</g>
<text transform="translate(286,823) rotate(-90)" font-size="11" text-anchor="middle">FSC-H</text>
<g clip-path="url(#cp3)">
<path d="M590,905 L588,850 L592,810 L600,790 L625,778 L660,774 L700,784 L714,805 L702,830 L672,848 L642,872 L622,905Z" fill="#24308c" opacity=".6" filter="url(#bl)"/>
<ellipse cx="696" cy="815" rx="14" ry="14" fill="#3048a8" opacity=".6" filter="url(#bl2)"/>
<ellipse cx="650" cy="810" rx="30" ry="20" fill="#30b0a0" filter="url(#bl)"/>
<ellipse cx="605" cy="842" rx="8" ry="40" fill="#30b0a0" filter="url(#bl2)"/>
<ellipse cx="605" cy="845" rx="4.5" ry="24" fill="#e8e040" filter="url(#bl2)"/>
<ellipse cx="650" cy="810" rx="16" ry="12" fill="#f0e040" filter="url(#bl2)"/>
<ellipse cx="650" cy="811" rx="8" ry="6" fill="#e8301e" filter="url(#bl2)"/>
</g>
<rect x="572.4" y="748" width="161.3" height="162" fill="none" stroke="#000" stroke-width=".8"/>
<path d="M572.4,748h161.3" stroke="#000" stroke-width="1.8"/>
<path d="M621.1,748V910" stroke="#000" stroke-width=".9"/>
<path d="M572.4,828H733.7" stroke="#000" stroke-width="1.8"/>
<g stroke="#000" stroke-width=".8"><path d="M569.5,786.2h3M569.5,828h3M569.5,881.6h3M603,910v3M640.7,910v3M681,910v3M718.7,910v3"/></g>
<g font-size="11">
<text x="575.5" y="765">10.7</text><text x="730" y="765" text-anchor="end">53.9</text><text x="575.5" y="902">26.3</text><text x="730" y="902" text-anchor="end">9.12</text>
</g>
<g font-size="10.5" text-anchor="end"><text x="568" y="790">10⁴</text><text x="568" y="832">10³</text><text x="568" y="885.5">0</text></g>
<g font-size="10.5" text-anchor="middle"><text x="603" y="924">0</text><text x="640.7" y="924">10³</text><text x="681" y="924">10⁴</text><text x="718.7" y="924">10⁵</text></g>
<path d="M540,856V764" stroke="#000" stroke-width="1"/><path d="M537,766L540,759L543,766Z"/>
<text transform="translate(544,887) rotate(-90)" font-size="11" text-anchor="middle">CD45</text>
<text x="601.6" y="942" font-size="11" text-anchor="middle">Lineage</text>
<path d="M631,938.6H725" stroke="#000" stroke-width="1"/><path d="M724,935.6L731,938.6L724,941.6Z"/>
<g>
<ellipse cx="865" cy="801" rx="20" ry="22" fill="#000"/>
<path d="M855,815 Q858,826 862,828 Q864,822 868,817Z" fill="#000"/>
<ellipse cx="865" cy="799" rx="14" ry="16" fill="none" stroke="#fff" stroke-width=".5"/>
<ellipse cx="865" cy="798" rx="8" ry="9" fill="none" stroke="#fff" stroke-width=".5"/>
<circle cx="865" cy="797" r="1.5" fill="#fff"/>
<ellipse cx="878" cy="861" rx="29" ry="21" fill="#000"/>
<ellipse cx="880" cy="861" rx="22" ry="15" fill="none" stroke="#fff" stroke-width=".5"/>
<ellipse cx="883" cy="862" rx="12" ry="9" fill="none" stroke="#fff" stroke-width=".5"/>
<circle cx="885.9" cy="862.9" r="1.8" fill="#fff"/>
</g>
<rect x="820.8" y="748" width="161.2" height="162" fill="none" stroke="#000" stroke-width=".8"/>
<path d="M820.8,748h161.2" stroke="#000" stroke-width="1.8"/>
<path d="M871.5,748V910" stroke="#000" stroke-width=".9"/>
<path d="M820.8,838.1H982" stroke="#000" stroke-width="1.8"/>
<g stroke="#000" stroke-width=".8"><path d="M817.8,762.4h3M817.8,799.8h3M817.8,838h3M817.8,871.7h3M817.8,906.7h3M835.8,910v3M854,910v3M887.8,910v3M926.8,910v3M967,910v3"/></g>
<g font-size="11">
<text x="824" y="765">27.1</text><text x="978.5" y="765" text-anchor="end">6.16</text><text x="824" y="902">13.7</text><text x="978.5" y="902" text-anchor="end">53.0</text>
</g>
<g font-size="10.5" text-anchor="end"><text x="817" y="766">10⁵</text><text x="817" y="803.5">10⁴</text><text x="817" y="842">10²</text><text x="817" y="875.5">0</text><text x="817" y="910.5">-10³</text></g>
<g font-size="10.5" text-anchor="middle"><text x="835.8" y="924">-10³</text><text x="854" y="924">0</text><text x="887.8" y="924">10³</text><text x="926.8" y="924">10⁴</text><text x="967" y="924">10⁵</text></g>
<path d="M790,856V764" stroke="#000" stroke-width="1"/><path d="M787,766L790,759L793,766Z"/>
<text transform="translate(792,892) rotate(-90)" font-size="11" text-anchor="middle">CD127</text>
<text x="848.8" y="942" font-size="11" text-anchor="middle">GATA3</text>
<path d="M878,938.6H968" stroke="#000" stroke-width="1"/><path d="M967,935.6L974,938.6L967,941.6Z"/>

<!-- ============ PANEL J ============ -->
<text x="1" y="991" class="L">j</text>
<text x="317" y="980.5" font-size="11.5" text-anchor="middle">Gated on CD45⁺CD127⁺GATA3⁺(colon)</text>
<rect x="118.6" y="999.2" width="16.8" height="16.5" fill="#5ea9b5" stroke="#2a8090"/>
<rect x="292.8" y="999.2" width="16" height="16.5" fill="#a8add6" stroke="#7d86c0"/>
<rect x="451.3" y="999.2" width="16" height="16.5" fill="#ecc0df" stroke="#e0a4d0"/>
<g font-size="12"><text x="140" y="1013">Control</text><text x="313.3" y="1013">DSS</text><text x="470.7" y="1013">DSS+CD12</text></g>
<path d="M23,1034V1458" stroke="#000" stroke-width="1" fill="none"/>
<path d="M20,1036L23,1028L26,1036Z"/>
<path d="M108,1564H552" stroke="#000" stroke-width="1"/><path d="M551,1561L559,1564L551,1567Z"/>
<g fill="#000">
<ellipse cx="104" cy="1075" rx="18" ry="19"/><path d="M92,1085 Q96,1100 100,1098 Q106,1092 110,1088Z"/>
<ellipse cx="119" cy="1132" rx="31" ry="23"/>
<path d="M260,1075 Q260,1056 274,1057 Q289,1058 288,1075 Q286,1090 284,1110 L284,1156 L262,1156 Q258,1130 262,1105 Q260,1090 260,1075Z"/>
<ellipse cx="305" cy="1135" rx="23" ry="22"/>
<ellipse cx="448" cy="1080" rx="20" ry="22"/>
<ellipse cx="467" cy="1133" rx="35" ry="22"/>
<ellipse cx="104" cy="1240" rx="18" ry="21"/>
<ellipse cx="118" cy="1311" rx="30" ry="22"/>
<ellipse cx="275" cy="1245" rx="14" ry="18"/>
<ellipse cx="298" cy="1312" rx="34" ry="22"/>
<ellipse cx="443" cy="1250" rx="19" ry="22"/>
<ellipse cx="468" cy="1311" rx="37" ry="22"/>
<path d="M80,1415 Q82,1406 100,1406 L120,1407 Q131,1410 131,1425 Q130,1435 120,1442 L116,1455 Q118,1465 138,1468 Q148,1474 147,1490 Q146,1502 130,1503 L100,1506 Q88,1508 85,1500 Q78,1480 80,1415Z"/>
<ellipse cx="273" cy="1429" rx="14" ry="17"/>
<ellipse cx="295" cy="1478" rx="34" ry="19.5"/>
<ellipse cx="448" cy="1427" rx="16" ry="17.5"/>
<ellipse cx="464" cy="1478" rx="33" ry="22"/>
</g>
<g fill="none" stroke="#fff" stroke-width=".6">
<ellipse cx="104" cy="1074" rx="11" ry="12"/><ellipse cx="121" cy="1132" rx="22" ry="15"/>
<ellipse cx="274" cy="1073" rx="8" ry="11"/><ellipse cx="274" cy="1073" rx="4" ry="6"/><ellipse cx="273" cy="1098" rx="7" ry="10"/><ellipse cx="272" cy="1135" rx="7" ry="10"/><ellipse cx="306" cy="1136" rx="15" ry="14"/>
<ellipse cx="448" cy="1080" rx="12" ry="14"/><ellipse cx="470" cy="1133" rx="22" ry="14"/><ellipse cx="441" cy="1135" rx="6" ry="8"/>
<ellipse cx="104" cy="1240" rx="11" ry="13"/><ellipse cx="120" cy="1311" rx="20" ry="14"/>
<ellipse cx="275" cy="1245" rx="9" ry="12"/><ellipse cx="275" cy="1245" rx="5" ry="7"/><ellipse cx="300" cy="1312" rx="22" ry="14"/>
<ellipse cx="443" cy="1250" rx="12" ry="14"/><ellipse cx="470" cy="1311" rx="25" ry="14"/>
<ellipse cx="103" cy="1424" rx="9" ry="12"/><ellipse cx="112" cy="1484" rx="24" ry="11"/><path d="M102,1440 Q100,1455 104,1470" />
<ellipse cx="274" cy="1430" rx="8" ry="11"/><ellipse cx="298" cy="1478" rx="22" ry="12"/>
<ellipse cx="448" cy="1427" rx="11" ry="12"/><ellipse cx="448" cy="1427" rx="6" ry="7"/><ellipse cx="466" cy="1478" rx="23" ry="14"/>
</g>
<g fill="#fff">
<circle cx="104" cy="1074" r="1.5"/><circle cx="128" cy="1132" r="1.8"/><circle cx="274" cy="1073" r="1.5"/><circle cx="306" cy="1136" r="1.8"/><circle cx="448" cy="1078" r="1.5"/><circle cx="482" cy="1131" r="1.8"/>
<circle cx="104" cy="1240" r="1.5"/><circle cx="125" cy="1311" r="1.8"/><circle cx="275" cy="1245" r="1.5"/><circle cx="305" cy="1312" r="1.8"/><circle cx="443" cy="1252" r="1.5"/><circle cx="476" cy="1311" r="1.8"/>
<circle cx="104" cy="1422" r="1.5"/><ellipse cx="100.7" cy="1482" rx="4.5" ry="4"/><circle cx="118" cy="1482" r="2"/><circle cx="273" cy="1430" r="1.5"/><circle cx="306" cy="1477" r="2"/><circle cx="447" cy="1428" r="1.3"/><circle cx="475" cy="1477" r="2.2"/>
</g>
<g fill="none" stroke="#000" stroke-width=".9">
<rect x="61.5" y="1023.5" width="159.3" height="159"/><rect x="232.4" y="1023.5" width="160" height="159"/><rect x="409.2" y="1023.5" width="159.6" height="159"/>
<rect x="61.5" y="1198" width="159.3" height="156"/><rect x="232.4" y="1198" width="160" height="156"/><rect x="409.2" y="1198" width="159.6" height="156"/>
<rect x="63.4" y="1372" width="154.8" height="155.2"/><rect x="236" y="1372" width="155" height="155.2"/><rect x="410.3" y="1372" width="155.5" height="155.2"/>
<path d="M112,1023.5V1182.5M282.7,1023.5V1182.5M458.8,1023.5V1182.5M112,1198V1354M282.7,1198V1354M458.8,1198V1354M112.6,1372V1527.2M284.6,1372V1527.2M459.9,1372V1527.2"/>
<path d="M61.5,1111.7H220.8M232.4,1111.7H392.4M409.2,1111.7H568.8M61.5,1284H220.8M232.4,1284H392.4M409.2,1284H568.8M63.4,1458.8H218.2M236,1458.8H391M410.3,1458.8H565.8"/>
</g>
<path d="M63.4,1372H218.2" stroke="#000" stroke-width="1.8"/>
<g stroke="#000" stroke-width=".8">
<path d="M58.5,1036h3M58.5,1063h3M58.5,1111.7h3M58.5,1140h3M58.5,1172h3M229.4,1036h3M229.4,1063h3M229.4,1111.7h3M229.4,1140h3M229.4,1172h3M406.2,1036h3M406.2,1063h3M406.2,1111.7h3M406.2,1140h3M406.2,1172h3"/>
<path d="M58.5,1210h3M58.5,1240h3M58.5,1284h3M58.5,1313h3M58.5,1345h3M229.4,1210h3M229.4,1240h3M229.4,1284h3M229.4,1313h3M229.4,1345h3M406.2,1210h3M406.2,1240h3M406.2,1284h3M406.2,1313h3M406.2,1345h3"/>
<path d="M60.4,1387.4h3M60.4,1421.5h3M60.4,1458.8h3M60.4,1490.6h3M60.4,1523.6h3M233,1387.4h3M233,1421.5h3M233,1458.8h3M233,1490.6h3M233,1523.6h3M407.3,1387.4h3M407.3,1421.5h3M407.3,1458.8h3M407.3,1490.6h3M407.3,1523.6h3"/>
</g>
<g stroke="#000" stroke-width=".7">
<path d="M66,1182.5v2M70,1182.5v2M74,1182.5v2M78,1182.5v2M82,1182.5v3M85,1182.5v3M88,1182.5v2M92,1182.5v2M96,1182.5v2M100,1182.5v2M104,1182.5v2M108,1182.5v2M116,1182.5v3M127,1182.5v2M140,1182.5v3M160,1182.5v2M175,1182.5v3M195,1182.5v2M212,1182.5v3"/>
<path d="M237,1182.5v2M241,1182.5v2M245,1182.5v2M249,1182.5v2M253,1182.5v3M256,1182.5v3M259,1182.5v2M263,1182.5v2M267,1182.5v2M271,1182.5v2M275,1182.5v2M279,1182.5v2M287,1182.5v3M298,1182.5v2M311,1182.5v3M331,1182.5v2M346,1182.5v3M366,1182.5v2M383,1182.5v3"/>
<path d="M414,1182.5v2M418,1182.5v2M422,1182.5v2M426,1182.5v2M430,1182.5v3M433,1182.5v3M436,1182.5v2M440,1182.5v2M444,1182.5v2M448,1182.5v2M452,1182.5v2M456,1182.5v2M464,1182.5v3M475,1182.5v2M488,1182.5v3M508,1182.5v2M523,1182.5v3M543,1182.5v2M560,1182.5v3"/>
<path d="M66,1354v2M70,1354v2M74,1354v2M78,1354v2M82,1354v3M85,1354v3M88,1354v2M92,1354v2M96,1354v2M100,1354v2M104,1354v2M108,1354v2M116,1354v3M127,1354v2M140,1354v3M160,1354v2M175,1354v3M195,1354v2M212,1354v3"/>
<path d="M237,1354v2M241,1354v2M245,1354v2M249,1354v2M253,1354v3M256,1354v3M259,1354v2M263,1354v2M267,1354v2M271,1354v2M275,1354v2M279,1354v2M287,1354v3M298,1354v2M311,1354v3M331,1354v2M346,1354v3M366,1354v2M383,1354v3"/>
<path d="M414,1354v2M418,1354v2M422,1354v2M426,1354v2M430,1354v3M433,1354v3M436,1354v2M440,1354v2M444,1354v2M448,1354v2M452,1354v2M456,1354v2M464,1354v3M475,1354v2M488,1354v3M508,1354v2M523,1354v3M543,1354v2M560,1354v3"/>
<path d="M66,1527.2v3M70,1527.2v2M75,1527.2v3M80,1527.2v2M85,1527.2v2M90,1527.2v2M95,1527.2v4M96,1527.2v4M100,1527.2v2M105,1527.2v2M112,1527.2v2M120,1527.2v2M128.7,1527.2v4M150,1527.2v2M171.6,1527.2v4M190,1527.2v2M207,1527.2v4"/>
<path d="M240,1527.2v2M245,1527.2v2M250,1527.2v2M255,1527.2v2M260,1527.2v3M264,1527.2v3M268,1527.2v2M274,1527.2v2M280,1527.2v2M290,1527.2v3M300,1527.2v2M320,1527.2v3M340,1527.2v2M360,1527.2v3M380,1527.2v2"/>
<path d="M414,1527.2v2M419,1527.2v2M424,1527.2v2M429,1527.2v2M434,1527.2v3M438,1527.2v3M442,1527.2v2M448,1527.2v2M454,1527.2v2M465,1527.2v3M475,1527.2v2M495,1527.2v3M515,1527.2v2M535,1527.2v3M555,1527.2v2"/>
</g>
<g font-size="11.5">
<text x="69" y="1039.5">18.8</text><text x="214.5" y="1039.5" text-anchor="end">6.55</text><text x="69" y="1176.5">12.5</text><text x="214.5" y="1176.5" text-anchor="end">61.8</text>
<text x="240" y="1039.5">10.6</text><text x="386" y="1039.5" text-anchor="end">3.25</text><text x="240" y="1176.5">14.7</text><text x="386" y="1176.5" text-anchor="end">71.4</text>
<text x="417" y="1039.5">25.7</text><text x="562.5" y="1039.5" text-anchor="end">4.30</text><text x="417" y="1176.5">14.8</text><text x="562.5" y="1176.5" text-anchor="end">55.2</text>
<text x="69" y="1214">27.1</text><text x="214.5" y="1214" text-anchor="end">6.16</text><text x="69" y="1348">13.7</text><text x="214.5" y="1348" text-anchor="end">53.0</text>
<text x="240" y="1214">10.2</text><text x="386" y="1214" text-anchor="end">4.10</text><text x="240" y="1348">12.6</text><text x="386" y="1348" text-anchor="end">73.1</text>
<text x="417" y="1214">45.6</text><text x="562.5" y="1214" text-anchor="end">3.27</text><text x="417" y="1348">22.7</text><text x="562.5" y="1348" text-anchor="end">28.4</text>
<text x="69" y="1388">29.1</text><text x="213" y="1388" text-anchor="end">10.1</text><text x="69" y="1521">33.6</text><text x="213" y="1521" text-anchor="end">27.2</text>
<text x="241" y="1388">18.8</text><text x="386" y="1388" text-anchor="end">1.76</text><text x="241" y="1521">13.6</text><text x="386" y="1521" text-anchor="end">65.8</text>
<text x="417" y="1388">13.8</text><text x="560.5" y="1388" text-anchor="end">2.61</text><text x="417" y="1521">31.0</text><text x="560.5" y="1521" text-anchor="end">52.6</text>
</g>
<g font-size="11.5" text-anchor="middle">
<text transform="translate(582,1103) rotate(-90)">replicate 1</text>
<text transform="translate(582,1277) rotate(-90)">replicate 2</text>
<text transform="translate(582,1451) rotate(-90)">replicate 3</text>
</g>
<g font-size="10" text-anchor="end">
<text x="58" y="1391">10⁵</text><text x="58" y="1425">10⁴</text><text x="58" y="1462.5">10³</text><text x="58" y="1494">0</text><text x="58" y="1527">-10³</text>
</g>
<g font-size="10" text-anchor="middle">
<text x="67" y="1545">-10³</text><text x="96.2" y="1545">0</text><text x="128.7" y="1545">10³</text><text x="171.6" y="1545">10⁴</text><text x="207" y="1545">10⁵</text>
</g>
<text transform="translate(26,1486) rotate(-90)" font-size="11" text-anchor="middle">CD127</text>
<text x="59.7" y="1568" font-size="11">GATA3</text>

<!-- ============ PANEL K ============ -->
<text x="610" y="1089" class="L">k</text>
<g stroke="#000" stroke-width="1.2" fill="none">
<path d="M680.5,1118.9V1288.6H813.3"/>
<path d="M676,1118.9h4.5M676,1175.7h4.5M676,1232.4h4.5M676,1288.6h4.5"/>
<path d="M707.9,1288.6v5M748.2,1288.6v5M788.6,1288.6v5"/>
<path d="M707.9,1137V1132.6H746.8V1137M747,1244.5V1239.2H787.6V1244.5"/>
</g>
<g font-size="11.5" text-anchor="end">
<text x="676" y="1123">1.5×10⁴</text><text x="676" y="1180">1×10⁴</text><text x="676" y="1236.5">5×10³</text><text x="676" y="1293">0</text>
</g>
<text transform="translate(626,1191) rotate(-90)" font-size="12" text-anchor="middle">CD127⁺GATA3⁺(counts)</text>
<g stroke-width="1.2">
<rect x="694.5" y="1177.3" width="25.5" height="111.3" fill="#5ea9b5" stroke="#1e7887"/>
<rect x="735.7" y="1262.5" width="25.5" height="26.1" fill="#a3a8d6" stroke="#6b72b5"/>
<rect x="775.9" y="1272.1" width="25.5" height="16.5" fill="#ebbfe0" stroke="#dda0d0"/>
</g>
<g fill="none" stroke-width="1.2">
<path stroke="#1e7887" d="M707.9,1144.4V1209.1M704,1144.4h8M704,1209.1h8"/>
<path stroke="#6b72b5" d="M748.2,1253.4V1270M744.2,1253.4h8M744.2,1270h8"/>
<path stroke="#dda0d0" d="M788.6,1268V1277M784.6,1268h8M784.6,1277h8"/>
</g>
<g fill="#fff" stroke-width="1.2">
<g stroke="#1e7887"><circle cx="707.9" cy="1144.4" r="4"/><circle cx="707.9" cy="1175.1" r="4"/><circle cx="707.9" cy="1209.1" r="4"/></g>
<g stroke="#6b72b5"><circle cx="748.2" cy="1251.1" r="4"/><circle cx="741" cy="1266.2" r="4"/><circle cx="756" cy="1266.2" r="4"/></g>
<g stroke="#dda0d0"><circle cx="781.5" cy="1270.5" r="4"/><circle cx="796" cy="1270.5" r="4"/><circle cx="781.5" cy="1277.4" r="4"/></g>
</g>
<g font-size="12.5" font-style="italic" text-anchor="middle"><text x="727" y="1127.5">p=0.01</text><text x="768.4" y="1235">p=0.11</text></g>
<g font-size="12" text-anchor="end" font-style="italic">
<text transform="translate(711,1298) rotate(-50)">Control</text>
<text transform="translate(752,1298) rotate(-50)">DSS</text>
<text transform="translate(792,1298) rotate(-50)">CD12</text>
</g>

<!-- ============ PANEL L ============ -->
<text x="806" y="1089" class="L">l</text>
<g stroke="#000" stroke-width="1.2" fill="none">
<path d="M879,1115V1287.2H1015"/>
<path d="M874.5,1115h4.5M874.5,1172.4h4.5M874.5,1229.8h4.5M874.5,1287.2h4.5"/>
<path d="M906.9,1287.2v5M947.6,1287.2v5M988.8,1287.2v5"/>
<path d="M906.9,1156V1152H947.6V1156M948.5,1226V1222H989V1226"/>
</g>
<g font-size="11.5" text-anchor="end">
<text x="874" y="1119">15</text><text x="874" y="1176.5">10</text><text x="874" y="1234">5</text><text x="874" y="1291.5">0</text>
</g>
<text transform="translate(846,1190) rotate(-90)" font-size="12" text-anchor="middle">CD127⁺GATA3⁺(%)</text>
<g stroke-width="1.2">
<rect x="894.4" y="1200" width="25.7" height="87.2" fill="#5ea9b5" stroke="#1e7887"/>
<rect x="934.6" y="1252.8" width="26.4" height="34.4" fill="#a3a8d6" stroke="#6b72b5"/>
<rect x="975.8" y="1249.3" width="26.1" height="37.9" fill="#ebbfe0" stroke="#dda0d0"/>
</g>
<g fill="none" stroke-width="1.2">
<path stroke="#1e7887" d="M906.9,1174.7V1224M902.9,1174.7h8M902.9,1224h8"/>
<path stroke="#6b72b5" d="M947.6,1239V1265.4M943.6,1239h8M943.6,1265.4h8"/>
<path stroke="#dda0d0" d="M988.8,1237.8V1257.4M984.8,1237.8h8M984.8,1257.4h8"/>
</g>
<g fill="#fff" stroke-width="1.2">
<g stroke="#1e7887"><circle cx="906.9" cy="1170.1" r="4"/><circle cx="899" cy="1216" r="4"/><circle cx="916" cy="1211.4" r="4"/></g>
<g stroke="#6b72b5"><circle cx="947.6" cy="1239" r="4"/><circle cx="947.6" cy="1249.3" r="4"/><circle cx="947.6" cy="1265.4" r="4"/></g>
<g stroke="#dda0d0"><circle cx="988.8" cy="1237.8" r="4"/><circle cx="996" cy="1250.5" r="4"/><circle cx="980" cy="1257.4" r="4"/></g>
</g>
<g font-size="12.5" font-style="italic" text-anchor="middle"><text x="927.5" y="1148">p=0.03</text><text x="969" y="1218">p=0.69</text></g>
<g font-size="12" text-anchor="end" font-style="italic">
<text transform="translate(910,1297) rotate(-50)">Control</text>
<text transform="translate(951,1297) rotate(-50)">DSS</text>
<text transform="translate(992,1297) rotate(-50)">CD12</text>
</g>
</svg>
</body></html>
